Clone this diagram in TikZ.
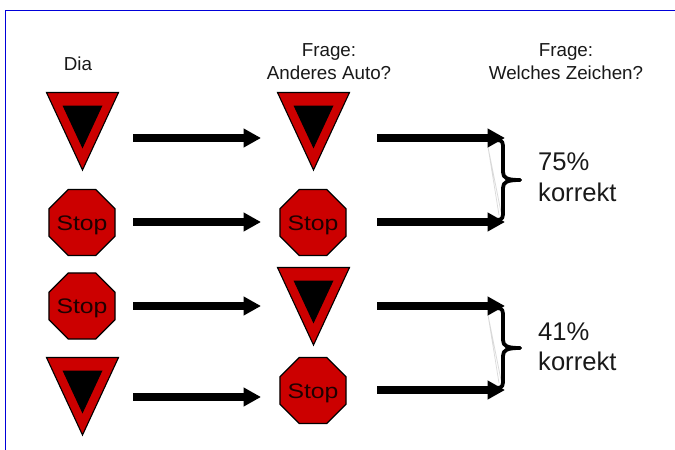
\documentclass[tikz,border=0pt]{standalone}
\usepackage{fontspec}
\usepackage{graphicx}
\setmainfont{Liberation Sans}
\usetikzlibrary{arrows.meta,shapes.geometric}
\definecolor{signred}{RGB}{204,0,0}
\newcommand{\stoptext}{\makebox[0pt]{\smash{\raisebox{-7.5pt}{\scalebox{1.18}[1]{\fontsize{21pt}{24pt}\selectfont Stop}}}}}
\tikzset{
  yieldsign/.pic={
    \draw[fill=signred,draw=black,line width=1.1pt,line join=miter] (-36,0) -- (36,0) -- (0,77.5) -- cycle;
    \fill[black] (-20,13) -- (20,13) -- (0,56) -- cycle;
  },
  stopsign/.style={regular polygon,regular polygon sides=8,draw=black,line width=1.2pt,fill=signred,minimum size=71.5pt,inner sep=0pt,text=black!85!signred},
  bigarrow/.style={line width=7.5pt,draw=black,-{Triangle[length=17.5pt,width=18pt]}},
  label/.style={font=\fontsize{18.8pt}{23pt}\selectfont,align=center,text=black!90,inner sep=0pt},
  result/.style={font=\fontsize{25.6pt}{30.5pt}\selectfont,align=left,anchor=west,text=black!90,inner sep=0pt},
  bracecurve/.style={draw=black,line width=3.8pt,line cap=round,line join=round},
  ghost/.style={draw=black!15,line width=.7pt},
  frameline/.style={draw=blue!85!black,line width=.8pt}
}
\begin{document}
\begin{tikzpicture}[x=1pt,y=-1pt]
\useasboundingbox (0,0) rectangle (675,450);
\fill[white] (0,0) rectangle (675,450);
\coordinate (f1) at (675,10); \coordinate (f2) at (5.5,10); \coordinate (f3) at (5.5,450);
\draw[frameline] (f1) -- (f2) -- (f3);
% labels
\node[label] (dia) at (78,64) {Dia};
\node[label] (q1) at (329,61.5) {Frage:\\Anderes Auto?};
\node[label] (q2) at (566,61.5) {Frage:\\Welches Zeichen?};
% signs
\pic at (82.5,92.5) {yieldsign};
\pic at (313.5,92.5) {yieldsign};
\pic at (313.5,267.5) {yieldsign};
\pic at (82.5,357.5) {yieldsign};
\node[stopsign] (s1) at (82,222.5) {\stoptext};
\node[stopsign] (s2) at (313,222.5) {\stoptext};
\node[stopsign] (s3) at (82,306) {\stoptext};
\node[stopsign] (s4) at (313,390.5) {\stoptext};
% arrow ends
\foreach \n/\y in {a/138,b/222,c/306,d/397}{
  \coordinate (\n1) at (133,\y); \coordinate (\n2) at (261,\y);
}
\foreach \n/\y in {e/138,f/222,p/306,h/390}{
  \coordinate (\n1) at (377,\y); \coordinate (\n2) at (505,\y);
}
% ghost lines
\coordinate (k1) at (488,147); \coordinate (k2) at (499,215); \coordinate (k3) at (501,212);
\draw[ghost] (k1) -- (k2) (k1) -- (k3);
\coordinate (k4) at (488,315); \coordinate (k5) at (499,383); \coordinate (k6) at (501,380);
\draw[ghost] (k4) -- (k5) (k4) -- (k6);
% arrows
\foreach \n in {a,b,c,d,e,f,p,h}{\draw[bigarrow] (\n1) -- (\n2);}
% braces
\coordinate (b1) at (497,140); \coordinate (b2) at (497,220); \coordinate (b3) at (520,180);
\draw[bracecurve] (b1) .. controls (503,140) and (503,143) .. (503,149) -- (503,172) .. controls (503,178) and (507,180) .. (b3);
\draw[bracecurve] (b3) .. controls (507,180) and (503,182) .. (503,188) -- (503,211) .. controls (503,217) and (503,220) .. (b2);
\coordinate (b4) at (497,308); \coordinate (b5) at (497,388); \coordinate (b6) at (520,348);
\draw[bracecurve] (b4) .. controls (503,308) and (503,311) .. (503,317) -- (503,340) .. controls (503,346) and (507,348) .. (b6);
\draw[bracecurve] (b6) .. controls (507,348) and (503,350) .. (503,356) -- (503,379) .. controls (503,385) and (503,388) .. (b5);
% results
\node[result] (r1) at (538,177) {75\%\\korrekt};
\node[result] (r2) at (538,346.5) {41\%\\korrekt};
\end{tikzpicture}
\end{document}
